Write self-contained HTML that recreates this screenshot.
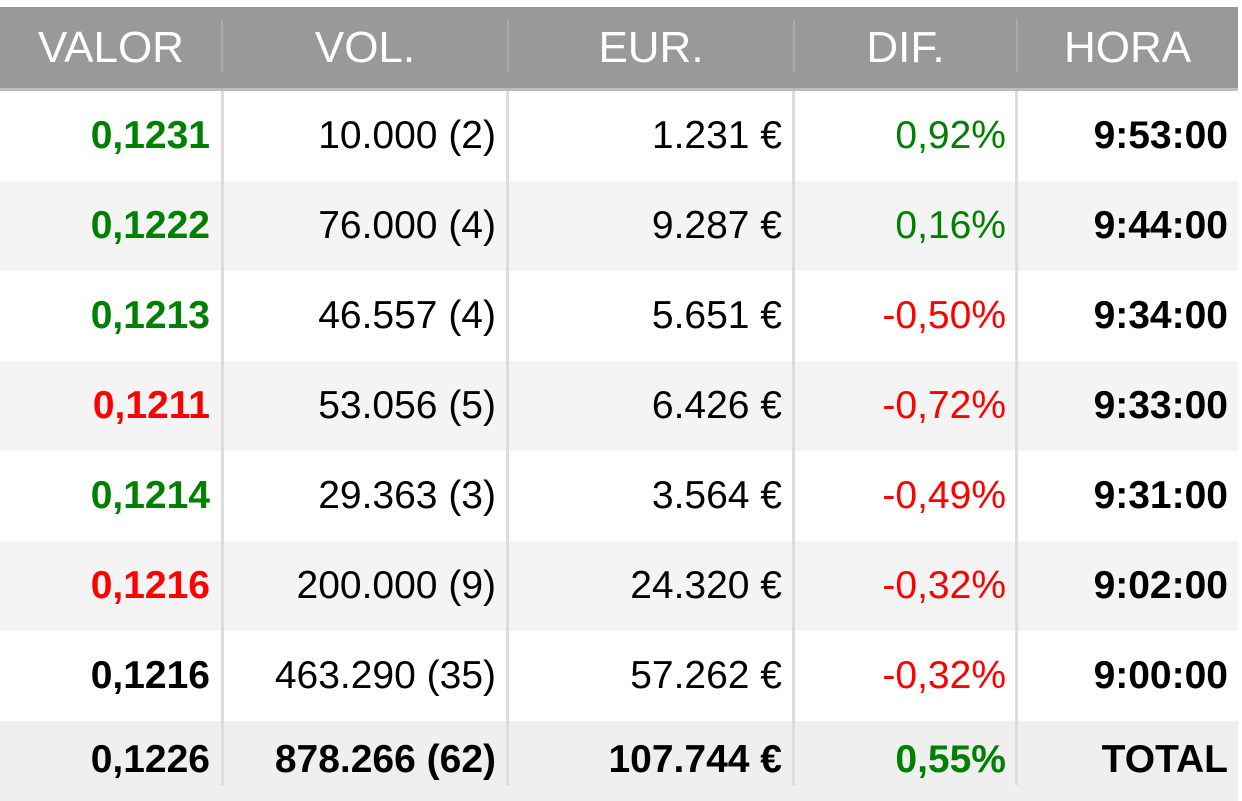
<!DOCTYPE html>
<html><head><meta charset="utf-8"><style>
html,body{margin:0;padding:0;width:1242px;height:785px;overflow:hidden;background:#fff;font-family:"Liberation Sans",sans-serif;}
#hdr{position:absolute;left:0;top:7px;width:1238px;height:81px;background:#999;border-bottom:3px solid #bdbdbd;}
.h{position:absolute;top:0;height:81px;line-height:81px;color:#fff;font-size:44px;text-align:center;}
.hd{position:absolute;top:12px;width:2px;height:53px;background:#aaa;}
.row{position:absolute;left:0;width:1238px;height:90px;}
.c{position:absolute;top:0;height:90px;line-height:90px;font-size:39px;text-align:right;color:#000;}
.vd{position:absolute;top:91px;width:3px;height:694px;background:#ddd;}
.g{color:#008000}.r{color:#f00}.b{font-weight:bold}
</style></head><body>
<div id="hdr">
<div class="h" style="left:0;width:222px">VALOR</div>
<div class="h" style="left:222px;width:286px">VOL.</div>
<div class="h" style="left:508px;width:286px">EUR.</div>
<div class="h" style="left:794px;width:223px">DIF.</div>
<div class="h" style="left:1017px;width:221px">HORA</div>
<div class="hd" style="left:221px"></div>
<div class="hd" style="left:507px"></div>
<div class="hd" style="left:793px"></div>
<div class="hd" style="left:1016px"></div>
</div>
<div id="body"></div>
<div class="vd" style="left:221px"></div>
<div class="vd" style="left:506px"></div>
<div class="vd" style="left:792px"></div>
<div class="vd" style="left:1015px"></div>
<script>
const valores=["0,1231","0,1222","0,1213","0,1211","0,1214","0,1216","0,1216"];
const valorColors=["g","g","g","r","g","r",""];
const vols=["10.000 (2)","76.000 (4)","46.557 (4)","53.056 (5)","29.363 (3)","200.000 (9)","463.290 (35)"];
const euros=["1.231 €","9.287 €","5.651 €","6.426 €","3.564 €","24.320 €","57.262 €"];
const difs=["0,92%","0,16%","-0,50%","-0,72%","-0,49%","-0,32%","-0,32%"];
const horas=["9:53:00","9:44:00","9:34:00","9:33:00","9:31:00","9:02:00","9:00:00"];
const totals=["0,1226","878.266 (62)","107.744 €","0,55%","TOTAL"];
const cols=[[0,210],[222,496],[508,782],[794,1006],[1017,1228]];
const body=document.getElementById('body');
function cell(row,i,text,cls){
  const d=document.createElement('div');
  
  
  d.className='c '+cls;
  d.style.left=cols[i][0]+'px';d.style.width=(cols[i][1]-cols[i][0])+'px';
  d.textContent=text;row.appendChild(d);
}
for(let k=0;k<valores.length;k++){
  const row=document.createElement('div');
  
  
  row.className='row';row.style.top=(91+90*k)+'px';
  row.style.background=k%2?'#f4f4f4':'#fff';
  cell(row,0,valores[k],'b '+valorColors[k]);
  cell(row,1,vols[k],'');
  cell(row,2,euros[k],'');
  const dv=parseFloat(difs[k].replace(',','.'));
  cell(row,3,difs[k],dv>=0?'g':'r');
  cell(row,4,horas[k],'b');
  body.appendChild(row);
}
const tr=document.createElement('div');


tr.className='row';tr.style.top=(91+90*valores.length)+'px';tr.style.height='80px';tr.style.background='#efefef';
totals.forEach((t,i)=>cell(tr,i,t,'b'+(i===3?' g':'')));
Array.from(tr.children).forEach(c=>{c.style.height='80px';c.style.lineHeight='78px';});
body.appendChild(tr);
</script>
</body></html>
